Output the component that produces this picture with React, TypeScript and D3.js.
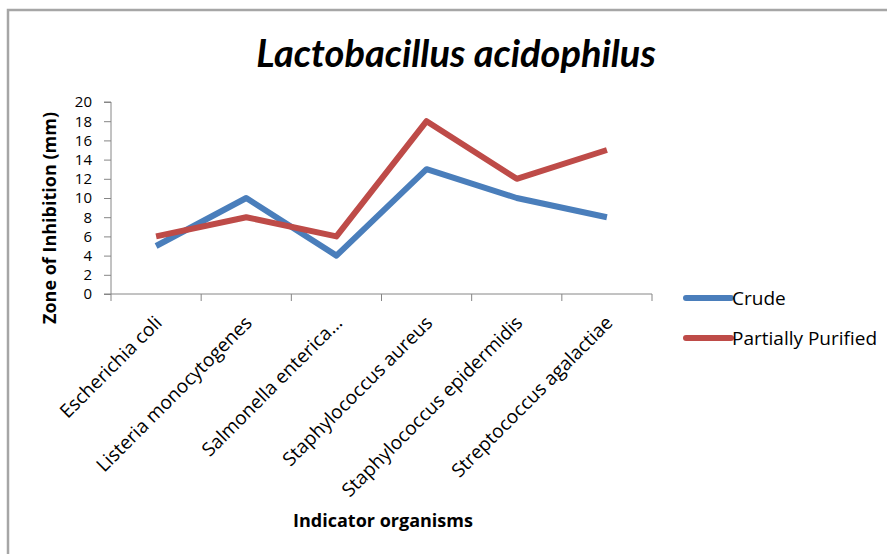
import React, { useEffect, useRef } from 'react';
import * as d3 from 'd3';

const categories = [
  'Escherichia coli',
  'Listeria monocytogenes',
  'Salmonella enterica…',
  'Staphylococcus aureus',
  'Staphylococcus epidermidis',
  'Streptococcus agalactiae',
];
const crude = [5, 10, 4, 13, 10, 8];
const partiallyPurified = [6, 8, 6, 18, 12, 15];
const yTicks = [0, 2, 4, 6, 8, 10, 12, 14, 16, 18, 20];

const series = [
  { name: 'Crude', values: crude, color: '#4a7ebb' },
  { name: 'Partially Purified', values: partiallyPurified, color: '#be4b48' },
];

const W = 887;
const H = 554;
const font = '"Open Sans", Lato, sans-serif';

const App = () => {
  const ref = useRef<SVGSVGElement>(null);

  useEffect(() => {
    const svg = d3.select(ref.current);
    svg.selectAll('*').remove();

    // outer frame
    svg.append('rect')
      .attr('x', 8).attr('y', 10)
      .attr('width', 900).attr('height', 600)
      .attr('fill', '#fff')
      .attr('stroke', '#a6a6a6')
      .attr('stroke-width', 2.5);

    const x = d3.scaleBand().domain(categories).range([111, 652]);
    const y = d3.scaleLinear().domain([0, 20]).range([294, 102]);

    // title
    svg.append('text')
      .attr('x', 456).attr('y', 67)
      .attr('text-anchor', 'middle')
      .attr('font-family', 'Lato, sans-serif')
      .attr('font-style', 'italic')
      .attr('font-weight', 'bold')
      .attr('font-size', 38)
      .text('Lactobacillus acidophilus');

    // y axis
    const yAxis = svg.append('g')
      .attr('transform', `translate(111,0)`)
      .call(d3.axisLeft(y).tickValues(yTicks).tickSize(7).tickPadding(12));
    yAxis.selectAll('path, line').attr('stroke', '#868686');
    yAxis.selectAll('text')
      .attr('font-family', font)
      .attr('font-size', 15)
      .attr('fill', '#000');
    yAxis.select('.domain').attr('d', `M-7,${y(20)}H0V${y(0)}`);

    // x axis
    const xAxis = svg.append('g')
      .attr('transform', `translate(0,${y(0)})`)
      .call(d3.axisBottom(x).tickSize(0).tickFormat(() => ''));
    xAxis.select('.domain').attr('d', `M104,0H652`).attr('stroke', '#868686');
    const edges = categories.map(c => x(c)!).concat([652]);
    xAxis.selectAll('.edge')
      .data(edges)
      .join('line')
      .attr('x1', d => d).attr('x2', d => d)
      .attr('y1', 0).attr('y2', 7)
      .attr('stroke', '#868686');

    svg.append('g').selectAll('text')
      .data(categories)
      .join('text')
      .attr('transform', d => `translate(${x(d)! + x.bandwidth() / 2 + 7},${y(0) + 30}) rotate(-45)`)
      .attr('text-anchor', 'end')
      .attr('font-family', font)
      .attr('font-size', 19)
      .text(d => d);

    // axis titles
    svg.append('text')
      .attr('transform', `translate(56,218) rotate(-90)`)
      .attr('text-anchor', 'middle')
      .attr('font-family', font)
      .attr('font-weight', 'bold')
      .attr('font-size', 18)
      .text('Zone of Inhibition (mm)');

    svg.append('text')
      .attr('x', 383).attr('y', 527)
      .attr('text-anchor', 'middle')
      .attr('font-family', font)
      .attr('font-weight', 'bold')
      .attr('font-size', 18)
      .text('Indicator organisms');

    // lines
    const line = d3.line<number>()
      .x((_, i) => x(categories[i])! + x.bandwidth() / 2)
      .y(d => y(d));

    svg.append('g').selectAll('path')
      .data(series)
      .join('path')
      .attr('d', d => line(d.values))
      .attr('fill', 'none')
      .attr('stroke', d => d.color)
      .attr('stroke-width', 6)
      .attr('stroke-linejoin', 'round');

    // legend
    const legend = svg.append('g').selectAll('g')
      .data(series)
      .join('g')
      .attr('transform', (_, i) => `translate(686,${298 + i * 40})`);
    legend.append('line')
      .attr('x1', 0).attr('x2', 45)
      .attr('stroke', d => d.color)
      .attr('stroke-width', 6)
      .attr('stroke-linecap', 'round');
    legend.append('text')
      .attr('x', 46).attr('y', 7)
      .attr('font-family', font)
      .attr('font-size', 19)
      .text(d => d.name);
  }, []);

  return (
    <svg ref={ref} width={W} height={H} style={{ position: 'absolute', left: 0, top: 0 }} />
  );
};

export default App;
